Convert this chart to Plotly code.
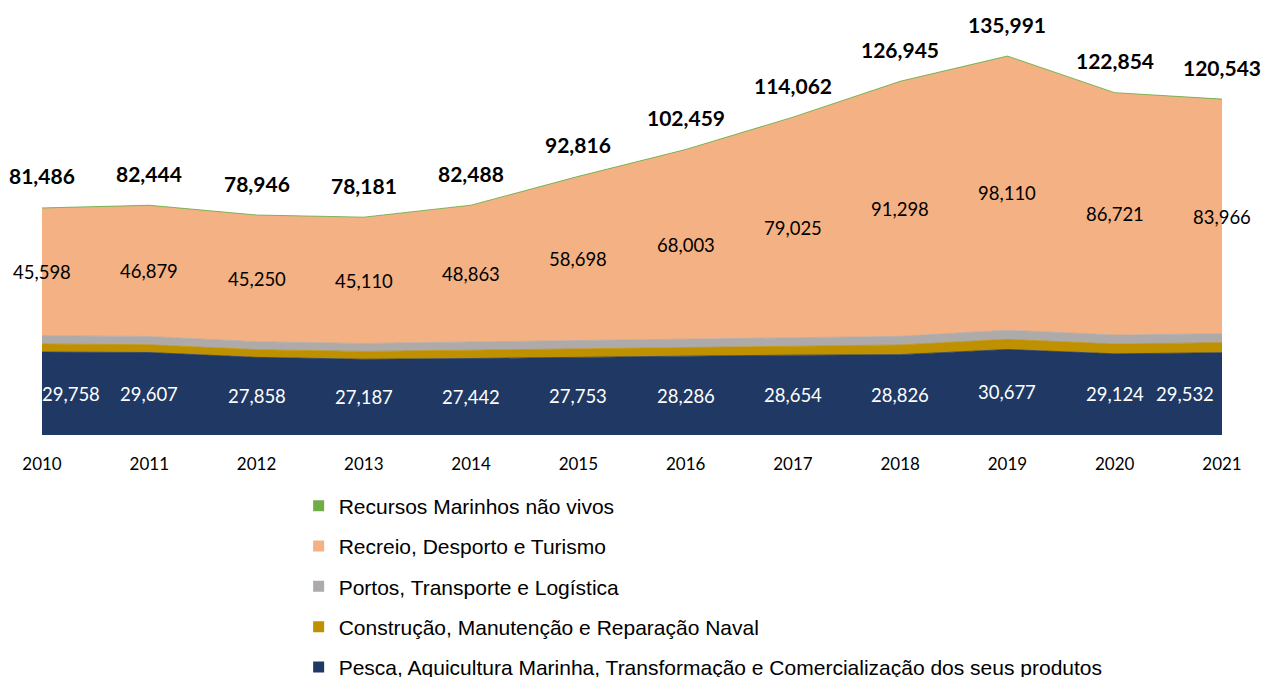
import plotly.graph_objects as go

years = [2010, 2011, 2012, 2013, 2014, 2015, 2016, 2017, 2018, 2019, 2020, 2021]

pesca = [29758, 29607, 27858, 27187, 27442, 27753, 28286, 28654, 28826, 30677, 29124, 29532]
construcao = [2900, 2780, 2770, 2810, 3000, 3130, 3040, 3200, 3480, 3640, 3510, 3600]
portos = [3000, 2950, 2850, 2850, 2950, 3000, 2900, 2950, 3100, 3300, 3250, 3200]
recreio = [45598, 46879, 45250, 45110, 48863, 58698, 68003, 79025, 91298, 98110, 86721, 83966]
recursos = [230, 228, 218, 224, 233, 235, 230, 233, 241, 264, 249, 245]
totais = [81486, 82444, 78946, 78181, 82488, 92816, 102459, 114062, 126945, 135991, 122854, 120543]

names = [
    "Pesca, Aquicultura Marinha, Transformação e Comercialização dos seus produtos",
    "Construção, Manutenção e Reparação Naval",
    "Portos, Transporte e Logística",
    "Recreio, Desporto e Turismo",
    "Recursos Marinhos não vivos",
]
colors = ["#203864", "#BF9000", "#AEAAAA", "#F4B183", "#70AD47"]
series = [pesca, construcao, portos, recreio, recursos]

fig = go.Figure()
for name, vals, col in zip(names, series, colors):
    fig.add_trace(go.Scatter(
        x=years, y=vals, name=name, stackgroup="one", mode="lines",
        line=dict(width=0.8, color=col), fillcolor=col, showlegend=False,
        hoverinfo="skip",
    ))

# legend entries with small square markers (top: Recursos ... bottom: Pesca)
for i in reversed(range(len(names))):
    fig.add_trace(go.Scatter(
        x=[None], y=[None], mode="markers", name=names[i],
        marker=dict(symbol="square", size=11, color=colors[i]),
        legendgroup="g%d" % i, showlegend=True,
    ))

label_font = dict(family="Lato", size=18.5, color="#000000")
white_font = dict(family="Lato", size=18.5, color="#FFFFFF")
bold_font = dict(family="Lato", size=21, color="#000000")

n = len(years)
for i in range(n):
    fig.add_annotation(x=years[i], y=totais[i], text="<b>{:,}</b>".format(totais[i]),
                       showarrow=False, yshift=32, font=bold_font, yanchor="middle")
    base = pesca[i] + construcao[i] + portos[i]
    fig.add_annotation(x=years[i], y=base + recreio[i] / 2, text="{:,}".format(recreio[i]),
                       showarrow=False, font=label_font, yanchor="middle")
    xs = 0
    if i == 0:
        xs = 29
    elif i == n - 1:
        xs = -37
    fig.add_annotation(x=years[i], y=pesca[i] / 2, text="{:,}".format(pesca[i]),
                       showarrow=False, font=white_font, yanchor="middle", xshift=xs)

fig.update_layout(
    width=1268, height=677,
    margin=dict(l=42, r=46, t=17, b=242, autoexpand=False),
    paper_bgcolor="white", plot_bgcolor="white",
    showlegend=True,
    legend=dict(
        x=0.2175, y=-0.121, xanchor="left", yanchor="top",
        traceorder="grouped", tracegroupgap=10, itemwidth=30,
        font=dict(family="Liberation Sans", size=21, color="#000000"),
        bgcolor="rgba(0,0,0,0)",
    ),
    xaxis=dict(
        range=[2010, 2021], tickmode="array", tickvals=years,
        ticktext=[str(y) for y in years], showgrid=False, zeroline=False,
        showline=False, ticks="", ticklabelstandoff=17,
        tickfont=dict(family="Lato", size=17, color="#000000"),
    ),
    yaxis=dict(range=[0, 150000], visible=False, showgrid=False, zeroline=False),
)

fig.write_html("out.html", post_script="document.body.style.margin='0';",
               config={"displayModeBar": False})
